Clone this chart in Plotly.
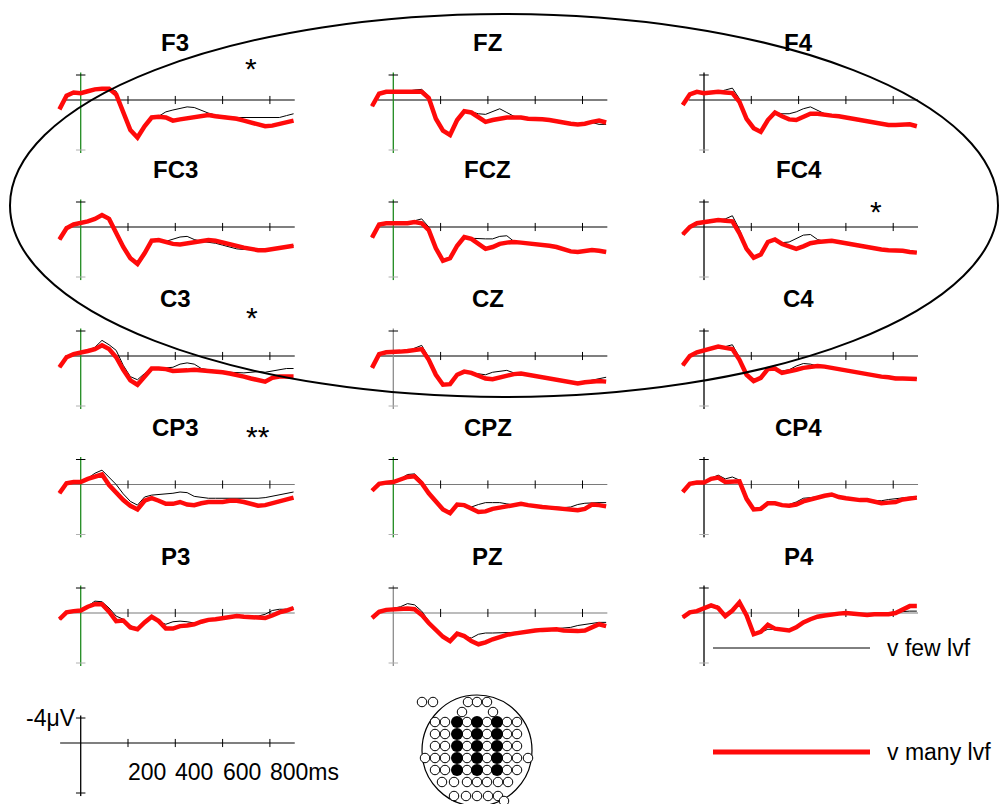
import plotly.graph_objects as go

W, H = 999, 804

# ---------------- data ----------------
times = list(range(-90, 901, 30))          # ms, sampling grid of the read-off curves
tick_ms = [200, 400, 600, 800]
tick_labels = ["200", "400", "600", "800ms"]
scale_label = "-4\u03bcV"
legend_labels = ["v few lvf", "v many lvf"]

channels = [["F3", "FZ", "F4"],
            ["FC3", "FCZ", "FC4"],
            ["C3", "CZ", "C4"],
            ["CP3", "CPZ", "CP4"],
            ["P3", "PZ", "P4"]]

# amplitudes in microvolts (negative plotted up)
F3_many = [1.5, -0.7, -1.2, -1.1, -1.4, -1.7, -1.8, -1.8, -0.9, 2.2, 4.8, 6.0, 4.2, 2.8, 2.7, 2.8, 3.3, 3.1, 2.9, 2.8, 2.6, 2.4, 2.6, 2.7, 2.9, 3.0, 3.3, 3.6, 3.9, 4.2, 4.1, 3.8, 3.5, 3.3]
F3_few = [1.2, -0.6, -1.1, -1.0, -1.4, -1.7, -1.8, -1.9, -1.4, 1.8, 4.6, 5.9, 4.2, 2.8, 2.6, 1.9, 1.6, 1.4, 1.1, 1.2, 1.7, 2.1, 2.4, 2.6, 2.7, 2.8, 2.8, 2.8, 2.8, 2.8, 2.8, 2.8, 2.5, 2.2]
FZ_many = [1.0, -1.0, -1.3, -1.3, -1.3, -1.4, -1.3, -1.3, -0.3, 3.0, 4.9, 5.6, 3.2, 1.8, 2.0, 2.7, 3.5, 3.2, 3.0, 2.8, 2.8, 2.8, 3.0, 3.0, 3.1, 3.2, 3.4, 3.7, 3.8, 3.9, 3.8, 3.5, 3.3, 3.6]
FZ_few = [1.0, -1.0, -1.3, -1.3, -1.3, -1.4, -1.6, -1.7, -0.6, 2.8, 4.9, 5.6, 3.2, 1.8, 1.9, 2.2, 2.3, 1.9, 1.4, 2.0, 2.6, 2.8, 3.0, 3.0, 3.1, 3.2, 3.4, 3.6, 3.8, 3.8, 3.7, 3.6, 3.9, 3.9]
F4_many = [0.8, -0.9, -1.3, -1.1, -1.2, -1.3, -1.2, -1.1, 0.3, 3.0, 4.5, 5.1, 3.2, 2.0, 2.6, 3.1, 3.2, 2.7, 2.2, 2.2, 2.4, 2.5, 2.6, 2.8, 3.0, 3.2, 3.4, 3.6, 3.8, 4.0, 4.0, 3.9, 3.9, 4.2]
F4_few = [0.8, -0.9, -1.3, -1.1, -1.2, -1.3, -1.6, -1.9, -0.2, 2.8, 4.4, 5.1, 3.2, 2.0, 2.2, 2.2, 1.9, 1.4, 1.1, 1.7, 2.2, 2.4, 2.6, 2.8, 3.0, 3.2, 3.4, 3.6, 3.8, 3.9, 4.0, 3.9, 3.9, 4.1]
FC3_many = [2.0, 0.2, -0.4, -0.6, -0.9, -1.3, -1.9, -1.3, 1.0, 3.2, 5.0, 5.9, 4.2, 2.2, 2.1, 2.4, 2.7, 2.8, 2.6, 2.4, 2.3, 2.1, 2.2, 2.5, 2.8, 3.1, 3.3, 3.5, 3.7, 3.7, 3.5, 3.3, 3.1, 3.0]
FC3_few = [2.0, 0.2, -0.4, -0.6, -0.9, -1.3, -2.0, -1.6, 0.6, 3.0, 5.0, 5.9, 4.2, 2.2, 2.1, 2.3, 2.0, 1.6, 1.5, 2.0, 2.3, 2.4, 2.6, 2.9, 3.2, 3.5, 3.6, 3.6, 3.7, 3.7, 3.5, 3.3, 3.1, 3.0]
FCZ_many = [1.7, -0.4, -0.6, -0.6, -0.6, -0.6, -0.8, -0.6, 0.5, 3.4, 5.4, 5.0, 3.0, 1.6, 1.9, 2.7, 3.5, 3.2, 2.7, 2.5, 2.4, 2.5, 2.6, 2.7, 2.9, 3.0, 3.2, 3.5, 3.9, 4.0, 3.9, 3.7, 3.8, 4.0]
FCZ_few = [1.7, -0.4, -0.6, -0.6, -0.6, -0.7, -1.0, -1.3, 0.0, 3.2, 5.4, 5.0, 3.0, 1.6, 1.8, 1.9, 1.9, 1.9, 1.5, 1.4, 2.3, 2.5, 2.6, 2.7, 2.9, 3.0, 3.2, 3.5, 3.8, 4.0, 3.9, 3.7, 3.8, 4.0]
FC4_many = [1.2, 0.0, -0.6, -0.8, -1.0, -1.1, -1.0, -0.9, 1.0, 3.5, 4.9, 4.4, 2.4, 2.0, 2.7, 3.1, 3.5, 3.1, 2.6, 2.4, 2.3, 2.2, 2.4, 2.6, 2.8, 3.1, 3.3, 3.5, 3.6, 3.7, 3.7, 3.8, 4.0, 4.1]
FC4_few = [1.2, 0.0, -0.6, -0.8, -1.0, -1.1, -1.3, -1.8, 0.4, 3.3, 4.9, 4.4, 2.4, 2.0, 2.5, 2.4, 1.9, 1.3, 1.2, 2.0, 2.3, 2.3, 2.5, 2.7, 2.9, 3.1, 3.3, 3.4, 3.5, 3.6, 3.7, 3.8, 3.9, 4.0]
C3_many = [1.8, 0.2, -0.3, -0.5, -0.8, -1.1, -1.7, -1.1, 0.2, 2.2, 3.9, 4.6, 3.3, 2.0, 2.0, 2.1, 2.4, 2.4, 2.3, 2.2, 2.3, 2.3, 2.5, 2.6, 2.8, 3.0, 3.3, 3.6, 3.9, 4.1, 3.5, 3.3, 3.3, 3.3]
C3_few = [1.8, 0.2, -0.3, -0.5, -0.9, -1.4, -2.5, -1.8, -0.9, 1.5, 3.3, 3.8, 2.8, 2.0, 2.0, 1.9, 1.8, 1.3, 1.1, 1.3, 2.0, 2.2, 2.4, 2.5, 2.6, 2.7, 2.7, 2.6, 2.5, 2.6, 2.4, 2.1, 2.0, 2.0]
CZ_many = [1.9, -0.3, -0.6, -0.6, -0.7, -0.8, -1.0, -1.1, 0.6, 3.0, 4.6, 4.5, 3.0, 2.5, 2.7, 3.1, 3.6, 3.7, 3.4, 3.2, 2.9, 2.8, 3.0, 3.3, 3.5, 3.7, 3.9, 4.1, 4.3, 4.4, 4.2, 4.1, 4.0, 4.1]
CZ_few = [1.9, -0.3, -0.6, -0.6, -0.7, -0.8, -1.2, -1.7, 0.2, 2.8, 4.6, 4.5, 3.0, 2.5, 2.7, 2.9, 3.0, 2.6, 2.4, 2.3, 2.7, 2.8, 3.0, 3.3, 3.5, 3.6, 3.8, 4.0, 4.1, 4.2, 4.1, 3.9, 3.6, 3.4]
C4_many = [1.5, 0.0, -0.6, -0.9, -1.2, -1.5, -1.3, -1.1, 0.6, 3.0, 4.0, 3.5, 2.1, 2.0, 2.7, 2.5, 2.2, 1.9, 1.7, 1.6, 1.7, 1.9, 2.1, 2.4, 2.6, 2.8, 2.9, 3.1, 3.3, 3.4, 3.6, 3.6, 3.7, 3.7]
C4_few = [1.5, 0.0, -0.6, -0.9, -1.2, -1.5, -1.5, -1.8, 0.2, 2.8, 4.0, 3.5, 2.1, 2.0, 2.4, 2.2, 1.6, 1.2, 1.3, 1.6, 1.7, 1.9, 2.1, 2.4, 2.6, 2.8, 2.9, 3.0, 3.2, 3.3, 3.4, 3.5, 3.6, 3.6]
CP3_many = [1.4, -0.2, -0.4, -0.4, -0.9, -1.3, -1.6, 0.1, 1.4, 2.5, 3.4, 4.0, 2.6, 2.2, 2.6, 3.1, 3.1, 2.8, 3.2, 3.3, 3.0, 2.8, 2.8, 2.8, 2.6, 2.6, 2.8, 3.1, 3.4, 3.3, 3.0, 2.7, 2.3, 2.1]
CP3_few = [1.4, -0.2, -0.4, -0.4, -1.0, -1.8, -2.3, -1.2, 0.0, 1.5, 2.7, 3.3, 2.0, 1.7, 1.6, 1.6, 1.4, 1.2, 1.3, 1.9, 2.1, 2.2, 2.2, 2.2, 2.2, 2.2, 2.2, 2.3, 2.2, 2.1, 1.9, 1.6, 1.4, 1.2]
CPZ_many = [1.0, -0.1, -0.3, -0.4, -0.8, -1.2, -1.3, -0.2, 1.4, 2.8, 4.0, 4.6, 3.2, 3.3, 3.9, 4.4, 4.3, 3.9, 3.7, 3.5, 3.3, 3.1, 3.3, 3.5, 3.6, 3.7, 3.8, 4.0, 4.1, 4.1, 3.9, 3.2, 3.3, 3.5]
CPZ_few = [1.0, -0.1, -0.3, -0.4, -0.9, -1.6, -1.7, -0.6, 1.2, 2.6, 3.9, 4.5, 3.2, 3.2, 3.6, 3.2, 2.9, 2.9, 2.9, 3.1, 3.3, 3.2, 3.3, 3.4, 3.5, 3.6, 3.7, 3.7, 3.6, 3.2, 3.0, 2.9, 2.9, 2.9]
CP4_many = [1.2, -0.1, -0.3, -0.3, -0.9, -1.1, -0.4, -0.5, -0.5, 2.3, 4.0, 3.9, 3.0, 3.0, 3.3, 3.4, 3.2, 2.7, 2.4, 2.0, 1.8, 1.6, 2.0, 2.2, 2.4, 2.5, 2.5, 2.7, 3.0, 2.9, 2.8, 2.4, 2.2, 2.1]
CP4_few = [1.2, -0.1, -0.3, -0.3, -1.0, -1.5, -0.9, -1.2, -0.7, 1.9, 3.9, 3.8, 3.0, 3.0, 3.2, 3.2, 2.8, 2.2, 2.1, 1.9, 1.8, 1.8, 2.0, 2.2, 2.4, 2.5, 2.5, 2.6, 2.6, 2.4, 2.3, 2.2, 2.0, 1.9]
P3_many = [1.0, -0.1, -0.3, -0.4, -1.0, -1.4, -1.4, -0.2, 1.3, 1.2, 2.3, 2.6, 1.5, 0.6, 1.3, 2.5, 2.5, 2.1, 2.0, 1.8, 1.4, 1.1, 1.0, 0.8, 0.6, 0.5, 0.6, 0.7, 0.8, 0.8, 0.4, -0.1, -0.4, -0.8]
P3_few = [1.0, -0.1, -0.3, -0.4, -1.1, -1.9, -1.8, -0.8, 0.5, 1.0, 2.0, 2.5, 1.5, 0.7, 1.4, 1.8, 1.4, 1.3, 1.4, 1.6, 1.4, 1.1, 1.0, 0.8, 0.6, 0.5, 0.6, 0.6, 0.5, 0.2, -0.4, -0.6, -0.6, -0.8]
PZ_many = [0.8, -0.2, -0.5, -0.6, -0.7, -0.7, -0.6, 0.3, 1.6, 2.8, 3.8, 4.5, 3.3, 3.7, 4.5, 5.0, 4.7, 4.2, 3.8, 3.5, 3.3, 3.1, 3.0, 2.8, 2.7, 2.6, 2.6, 2.8, 2.9, 2.9, 2.8, 2.3, 1.8, 2.1]
PZ_few = [0.8, -0.2, -0.5, -0.7, -1.0, -1.5, -1.3, -0.3, 1.3, 2.6, 3.7, 4.4, 3.3, 3.7, 4.0, 3.4, 3.2, 3.2, 3.2, 3.2, 3.1, 3.0, 2.9, 2.8, 2.7, 2.6, 2.6, 2.5, 2.3, 2.0, 1.8, 1.7, 1.5, 1.5]
P4_many = [0.7, -0.1, -0.3, -0.8, -1.2, -0.8, 0.5, -0.4, -1.7, 0.4, 3.4, 3.0, 1.9, 2.5, 2.7, 2.8, 2.3, 1.5, 1.0, 0.6, 0.4, 0.2, 0.1, 0.0, 0.1, 0.3, 0.3, 0.2, 0.2, 0.2, 0.0, -0.6, -1.1, -1.1]
P4_few = [0.7, -0.1, -0.3, -0.8, -1.3, -1.1, 0.4, -0.6, -1.9, 0.2, 3.3, 3.1, 2.6, 2.6, 2.7, 2.8, 2.2, 1.4, 0.9, 0.6, 0.4, 0.3, 0.2, 0.1, 0.1, 0.3, 0.3, 0.1, 0.0, -0.1, -0.2, -0.3, -0.3, -0.3]

many = {"F3": F3_many, "FZ": FZ_many, "F4": F4_many,
        "FC3": FC3_many, "FCZ": FCZ_many, "FC4": FC4_many,
        "C3": C3_many, "CZ": CZ_many, "C4": C4_many,
        "CP3": CP3_many, "CPZ": CPZ_many, "CP4": CP4_many,
        "P3": P3_many, "PZ": PZ_many, "P4": P4_many}
few = {"F3": F3_few, "FZ": FZ_few, "F4": F4_few,
       "FC3": FC3_few, "FCZ": FCZ_few, "FC4": FC4_few,
       "C3": C3_few, "CZ": CZ_few, "C4": C4_few,
       "CP3": CP3_few, "CPZ": CPZ_few, "CP4": CP4_few,
       "P3": P3_few, "PZ": PZ_few, "P4": P4_few}
significance = {"F3": "*", "FC4": "*", "C3": "*", "CP3": "**"}

# electrode map (sensor positions of the montage sketch)
map_filled_x = [457, 477, 497]
map_filled_y = [722, 734, 746, 758, 770]
map_open_rows = [
    (702, [422, 433, 468, 477, 487]),
    (712, [462, 493]),
    (722, [435, 445, 467, 487, 507, 517]),
    (734, [435, 445, 467, 487, 507, 517]),
    (746, [435, 445, 467, 487, 507, 517]),
    (758, [425, 435, 445, 467, 487, 507, 517, 528]),
    (770, [435, 445, 467, 487, 507, 517]),
    (782, [442, 454, 467, 477, 487, 498, 508]),
    (796, [454, 466, 477, 488, 498]),
    (801, [504]),
]

# ---------------- geometry / style ----------------
COL_AXIS_PX = [80.7, 393.3, 704.0]
ROW_BASE_PX = [100.0, 227.0, 356.0, 484.5, 613.0]
SCALE_BASE_PX = 743.0
PX_MS = 47.3 / 200.0
PX_UV = 6.25
XR = [-150, 950]
YR = [8.5, -5.0]
FONT = "Liberation Sans, Arial, sans-serif"
GREEN = "#1f8a1f"
RED = "#ff0a0a"

green_axes = {"F3", "FZ", "FC3", "FCZ", "C3", "CP3", "CPZ", "P3"}
grey_axes = {"CZ", "PZ"}


def px(xp):
    return xp / W


def py(yp):
    return 1 - yp / H


def names(n):
    return ("x" if n == 1 else f"x{n}", "y" if n == 1 else f"y{n}",
            "xaxis" if n == 1 else f"xaxis{n}", "yaxis" if n == 1 else f"yaxis{n}")


fig = go.Figure()
layout_axes = {}
shapes = []
annotations = []


def add_axes(n, axpx, base):
    xr, yr, xk, yk = names(n)
    layout_axes[xk] = dict(domain=[px(axpx + XR[0] * PX_MS), px(axpx + XR[1] * PX_MS)],
                           range=XR, visible=False, fixedrange=True, anchor=yr)
    layout_axes[yk] = dict(domain=[py(base + YR[0] * PX_UV), py(base + YR[1] * PX_UV)],
                           range=YR, visible=False, fixedrange=True, anchor=xr)
    return xr, yr


def seg(xr, yr, x0, x1, y0, y1, color, width, layer="below"):
    shapes.append(dict(type="line", xref=xr, yref=yr, x0=x0, x1=x1, y0=y0, y1=y1,
                       line=dict(color=color, width=width), layer=layer))


def draw_frame(xr, yr, base_color, vcolor, x_start, bottom_tick_color):
    seg(xr, yr, x_start, 905, 0, 0, base_color, 1.2)
    for t in tick_ms:
        seg(xr, yr, t, t, -0.65, 0.65, "black", 1)
    seg(xr, yr, 0, 0, -4.4, 8.5, vcolor, 1.3)
    seg(xr, yr, -20, 20, -4, -4, "black", 1)
    seg(xr, yr, -20, 20, 8, 8, bottom_tick_color, 1)


n = 0
for r, row in enumerate(channels):
    for c, ch in enumerate(row):
        n += 1
        xr, yr = add_axes(n, COL_AXIS_PX[c], ROW_BASE_PX[r])
        vcol = GREEN if ch in green_axes else ("#8c8c8c" if ch in grey_axes else "black")
        bcol = "black" if r < 3 else "#7a7a7a"
        draw_frame(xr, yr, bcol, vcol, -65, "#b0b0b0")
        fig.add_trace(go.Scatter(x=times, y=few[ch], xaxis=xr, yaxis=yr, mode="lines",
                                 line=dict(color="black", width=1), showlegend=False,
                                 hoverinfo="skip"))
        fig.add_trace(go.Scatter(x=times, y=many[ch], xaxis=xr, yaxis=yr, mode="lines",
                                 line=dict(color=RED, width=4.5), showlegend=False,
                                 hoverinfo="skip"))
        annotations.append(dict(text=ch, xref="paper", yref="paper",
                                x=px(COL_AXIS_PX[c] + 400 * PX_MS), y=py(ROW_BASE_PX[r] - 57),
                                xanchor="center", yanchor="middle", showarrow=False,
                                font=dict(family=FONT, size=24, color="black", weight="bold")))

# significance markers (pixel positions of the stars)
star_pos = {"F3": (251, 69), "FC4": (876, 211), "C3": (252, 318), "CP3": (258, 436)}
for ch, txt in significance.items():
    x0, y0 = star_pos[ch]
    annotations.append(dict(text=txt, xref="paper", yref="paper", x=px(x0), y=py(y0),
                            xanchor="center", yanchor="middle", showarrow=False,
                            font=dict(family=FONT, size=30, color="black")))

# scale bar panel
n += 1
xr, yr = add_axes(n, COL_AXIS_PX[0], SCALE_BASE_PX)
draw_frame(xr, yr, "black", "black", -87, "black")
annotations.append(dict(text=scale_label, xref="paper", yref="paper",
                        x=px(COL_AXIS_PX[0] - 3), y=py(SCALE_BASE_PX - 4 * PX_UV),
                        xanchor="right", yanchor="middle", showarrow=False,
                        font=dict(family=FONT, size=23, color="black")))
for t, lab in zip(tick_ms, tick_labels):
    annotations.append(dict(text=lab, xref="paper", yref="paper",
                            x=px(COL_AXIS_PX[0] + t * PX_MS - 2), y=py(SCALE_BASE_PX + 29),
                            xanchor="left", yanchor="middle", showarrow=False,
                            font=dict(family=FONT, size=23, color="black")))

# electrode map
n += 1
mx, my, mxk, myk = names(n)
layout_axes[mxk] = dict(domain=[px(405), px(550)], range=[405, 550], visible=False,
                        fixedrange=True, anchor=my)
layout_axes[myk] = dict(domain=[0, py(688)], range=[804, 688], visible=False,
                        fixedrange=True, anchor=mx)
shapes.append(dict(type="circle", xref=mx, yref=my, x0=422, x1=532, y0=695, y1=806,
                   line=dict(color="black", width=1.2), layer="below"))
ox, oy = [], []
for yv, xs in map_open_rows:
    for xv in xs:
        ox.append(xv)
        oy.append(yv)
fx = [xv for yv in map_filled_y for xv in map_filled_x]
fy = [yv for yv in map_filled_y for xv in map_filled_x]
fig.add_trace(go.Scatter(x=ox, y=oy, xaxis=mx, yaxis=my, mode="markers",
                         marker=dict(symbol="circle", size=9.5, color="white",
                                     line=dict(color="black", width=1)),
                         showlegend=False, hoverinfo="skip", cliponaxis=False))
fig.add_trace(go.Scatter(x=fx, y=fy, xaxis=mx, yaxis=my, mode="markers",
                         marker=dict(symbol="circle", size=12, color="black",
                                     line=dict(color="black", width=0)),
                         showlegend=False, hoverinfo="skip", cliponaxis=False))

# big ellipse around the frontal / central channels
shapes.append(dict(type="circle", xref="paper", yref="paper",
                   x0=px(10), x1=px(998), y0=py(397), y1=py(14),
                   line=dict(color="black", width=2), layer="above"))

# legend
shapes.append(dict(type="line", xref="paper", yref="paper", x0=px(713), x1=px(870),
                   y0=py(648), y1=py(648), line=dict(color="black", width=1)))
shapes.append(dict(type="line", xref="paper", yref="paper", x0=px(713), x1=px(870),
                   y0=py(752), y1=py(752), line=dict(color=RED, width=5)))
for lab, yp in zip(legend_labels, [648, 752]):
    annotations.append(dict(text=lab, xref="paper", yref="paper", x=px(885), y=py(yp),
                            xanchor="left", yanchor="middle", showarrow=False,
                            font=dict(family=FONT, size=23, color="black")))

fig.update_layout(width=W, height=H, margin=dict(l=0, r=0, t=0, b=0, pad=0),
                  paper_bgcolor="white", plot_bgcolor="rgba(0,0,0,0)",
                  showlegend=False, shapes=shapes, annotations=annotations,
                  **layout_axes)

fig.write_html("out.html", config={"displayModeBar": False},
               post_script="document.body.style.margin='0px';document.body.style.overflow='hidden';")
